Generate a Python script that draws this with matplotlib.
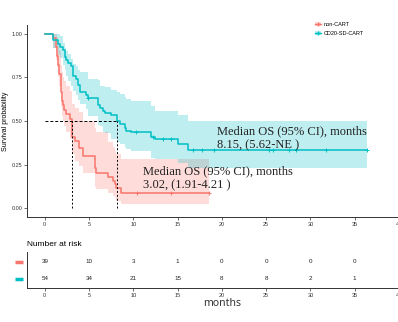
import matplotlib
matplotlib.use("Agg")
import matplotlib.pyplot as plt
from matplotlib.lines import Line2D
from matplotlib.patches import Patch
from matplotlib.transforms import blended_transform_factory

plt.rcParams['font.family'] = ['Liberation Sans', 'DejaVu Sans']

RED = '#F8766D'
CYAN = '#00BFC4'

# non-CART group (n=39)
t_red = [0, 0.98, 1.24, 1.35, 1.5, 1.6, 1.8, 1.88, 2.0, 2.1, 2.18, 2.44, 2.82, 3.02,
         3.46, 3.83, 4.32, 5.64, 5.83, 7.14, 7.7, 7.9, 8.08, 8.57, 18.6]
s_red = [1.0, 0.974, 0.923, 0.872, 0.821, 0.769, 0.718, 0.667, 0.615, 0.59, 0.564, 0.538,
         0.513, 0.41, 0.385, 0.345, 0.30, 0.231, 0.205, 0.179, 0.154, 0.141, 0.115, 0.088, 0.088]
hi_red = [1.0, 1.0, 1.0, 0.98, 0.95, 0.91, 0.86, 0.82, 0.78, 0.75, 0.73, 0.70, 0.67, 0.60,
          0.575, 0.55, 0.50, 0.46, 0.44, 0.38, 0.35, 0.33, 0.31, 0.28, 0.28]
lo_red = [1.0, 0.92, 0.85, 0.81, 0.75, 0.70, 0.63, 0.58, 0.53, 0.50, 0.47, 0.44, 0.40, 0.31,
          0.27, 0.24, 0.20, 0.12, 0.11, 0.09, 0.07, 0.06, 0.04, 0.025, 0.025]
cens_red = [10.4, 14.2, 18.6]

# CD20-SD-CART group (n=54)
t_cyan = [0, 0.94, 1.5, 1.69, 2.07, 2.26, 2.44, 2.63, 3.0, 3.2, 3.57, 3.76, 3.95, 4.7,
          4.89, 6.0, 6.2, 6.58, 6.77, 7.52, 8.15, 8.46, 9.02, 9.21, 9.77, 12.03, 12.4,
          15.04, 16.2, 36.4]
s_cyan = [1.0, 0.963, 0.944, 0.926, 0.907, 0.87, 0.852, 0.833, 0.815, 0.759, 0.741, 0.704,
          0.667, 0.648, 0.63, 0.593, 0.574, 0.556, 0.547, 0.537, 0.5, 0.481, 0.463, 0.444,
          0.435, 0.407, 0.397, 0.368, 0.337, 0.337]
hi_cyan = [1.0, 1.0, 1.0, 0.99, 0.95, 0.92, 0.90, 0.885, 0.856, 0.828, 0.818, 0.79, 0.78,
           0.78, 0.74, 0.735, 0.703, 0.70, 0.694, 0.68, 0.665, 0.655, 0.64, 0.627, 0.617,
           0.588, 0.56, 0.535, 0.50, 0.50]
lo_cyan = [1.0, 0.92, 0.88, 0.86, 0.82, 0.79, 0.76, 0.73, 0.70, 0.67, 0.65, 0.62, 0.60,
           0.57, 0.53, 0.48, 0.47, 0.44, 0.43, 0.40, 0.38, 0.37, 0.35, 0.34, 0.33, 0.29,
           0.28, 0.26, 0.23, 0.23]
cens_cyan = [4.9, 10.3, 12.2, 13.3, 14.3, 16.7, 17.8, 19.1, 25.3, 25.8, 27.6, 28.4, 31.8, 36.4]

median_red = 3.02
median_cyan = 8.15

risk_times = [0, 5, 10, 15, 20, 25, 30, 35]
risk_red = [39, 10, 3, 1, 0, 0, 0, 0]
risk_cyan = [54, 34, 21, 15, 8, 8, 2, 1]
labels = ['non-CART', 'CD20-SD-CART']


def surv_at(t, times, surv):
    val = surv[0]
    for ti, si in zip(times, surv):
        if ti <= t:
            val = si
    return val


fig = plt.figure(figsize=(3.98, 3.22), dpi=100)
ax = fig.add_axes([0.068, 0.326, 0.979, 0.596])
tab = fig.add_axes([0.068, 0.106, 0.979, 0.112])

for t, s, lo, hi, cens, col in [(t_red, s_red, lo_red, hi_red, cens_red, RED),
                                (t_cyan, s_cyan, lo_cyan, hi_cyan, cens_cyan, CYAN)]:
    ax.fill_between(t, lo, hi, step='post', color=col, alpha=0.25, linewidth=0)
    ax.step(t, s, where='post', color=col, lw=1.1)
    ax.plot(cens, [surv_at(c, t, s) for c in cens], '+', color=col, ms=3.5, mew=0.7)

# median survival guides
ax.plot([0, median_cyan], [0.5, 0.5], color='black', ls=(0, (3, 2)), lw=0.7)
for m in [median_red, median_cyan]:
    ax.plot([m, m], [0, 0.5], color='black', ls=(0, (2, 2)), lw=0.7)

ax.text(19.4, 0.40, 'Median OS (95% CI), months\n{:.2f}, (5.62-NE )'.format(median_cyan),
        family='Liberation Serif', fontsize=9, color='#222222', va='center', ha='left')
ax.text(11.05, 0.172, 'Median OS (95% CI), months\n{:.2f}, (1.91-4.21 )'.format(median_red),
        family='Liberation Serif', fontsize=9, color='#222222', va='center', ha='left')

ax.set_xlim(-2, 42)
ax.set_ylim(-0.05, 1.05)
ax.set_xticks([0, 5, 10, 15, 20, 25, 30, 35, 40])
ax.set_yticks([0, 0.25, 0.5, 0.75, 1.0])
ax.set_yticklabels(['0.00', '0.25', '0.50', '0.75', '1.00'])
ax.set_ylabel('Survival probability', fontsize=5, labelpad=2)
for a in [ax, tab]:
    for side in ['top', 'right']:
        a.spines[side].set_visible(False)
    for side in ['left', 'bottom']:
        a.spines[side].set_color('#333333')
        a.spines[side].set_linewidth(0.7)
    a.tick_params(labelsize=4, length=2, width=0.5, pad=1.5, colors='#333333')

handles = [(Patch(facecolor=RED, alpha=0.25, lw=0), Line2D([], [], color=RED, marker='+', lw=1, ms=3)),
           (Patch(facecolor=CYAN, alpha=0.25, lw=0), Line2D([], [], color=CYAN, marker='+', lw=1, ms=3))]
fig.legend(handles, labels, loc='upper left', bbox_to_anchor=(0.778, 0.946), frameon=False,
           fontsize=4, handlelength=1.2, handletextpad=0.4, labelspacing=0.6)

# number at risk table
for y, counts in [(2, risk_red), (1, risk_cyan)]:
    for t, n in zip(risk_times, counts):
        tab.text(t, y, str(n), ha='center', va='center', fontsize=4.5, color='#222222')
tab.set_xlim(-2, 42)
tab.set_ylim(0.45, 2.6)
tab.set_yticks([])
tab.set_xticks([0, 5, 10, 15, 20, 25, 30, 35, 40])
trans = blended_transform_factory(tab.transAxes, tab.transData)
for y, col in [(2, RED), (1, CYAN)]:
    tab.plot([-0.03, -0.01], [y, y], color=col, lw=2.5, transform=trans, clip_on=False,
             solid_capstyle='butt')
tab.set_title('Number at risk', loc='left', fontsize=6, pad=4, x=0.0)
tab.set_xlabel('months', family='Noto Sans', fontsize=7.5, color='#333333', labelpad=0)

fig.savefig('out.png', dpi=100)
